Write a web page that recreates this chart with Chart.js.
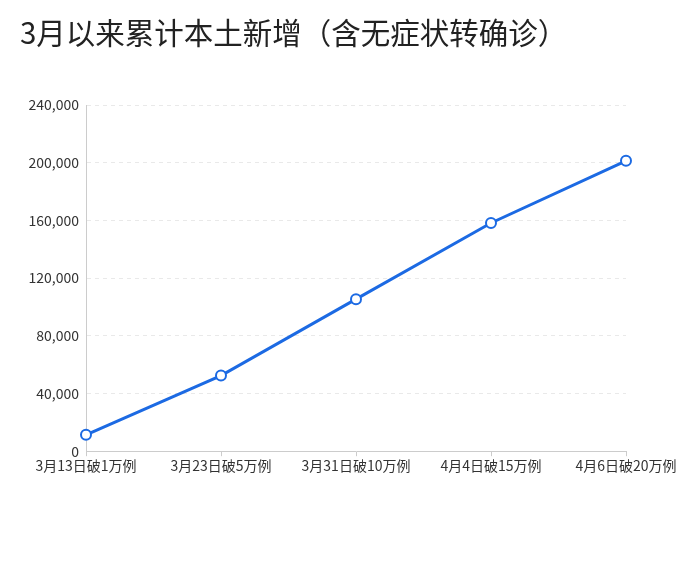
<!DOCTYPE html>
<html>
<head>
<meta charset="utf-8">
<script src="https://cdn.jsdelivr.net/npm/chart.js@4"></script>
<style>
  body { margin: 0; background: #fff; }
  #wrap { position: relative; width: 700px; height: 576px; }
  #title {
    position: absolute; left: 20px; top: 10px;
    font-family: "Noto Sans CJK SC", sans-serif; font-size: 29.5px; color: #222;
    white-space: nowrap;
  }
  #box { position: absolute; left: 0; top: 0; width: 700px; height: 576px; }
</style>
</head>
<body>
<div id="wrap">
  <div id="box"><canvas id="myChart"></canvas></div>
  <div id="title">3月以来累计本土新增（含无症状转确诊）</div>
</div>
<script>
const categories = ['3月13日破1万例', '3月23日破5万例', '3月31日破10万例', '4月4日破15万例', '4月6日破20万例'];
const totals = [11400, 52400, 105400, 158200, 201300];
const yTicks = [0, 40000, 80000, 120000, 160000, 200000, 240000];

const font = { family: '"Noto Sans CJK SC", sans-serif', size: 14 };

const ctx = document.getElementById('myChart').getContext('2d');
new Chart(ctx, {
  type: 'line',
  data: {
    labels: categories,
    datasets: [{
      data: totals,
      borderColor: '#1c6ae3',
      borderWidth: 3,
      pointRadius: 5,
      pointBorderWidth: 2,
      pointBackgroundColor: '#fff',
      pointBorderColor: '#1c6ae3',
      tension: 0
    }]
  },
  options: {
    responsive: true,
    maintainAspectRatio: false,
    animation: false,
    layout: { padding: { top: 105, bottom: 101, right: 74, left: 0 } },
    plugins: { legend: { display: false }, tooltip: { enabled: false } },
    scales: {
      x: {
        offset: false,
        grid: { drawOnChartArea: false, drawTicks: true, tickLength: 5, color: '#cccccc' },
        border: { color: '#cccccc' },
        ticks: { color: '#333', font: font, maxRotation: 0, autoSkip: false, padding: 1 }
      },
      y: {
        min: 0,
        max: 240000,
        afterFit: s => { s.width = 86; },
        afterBuildTicks: s => { s.ticks = yTicks.map(v => ({ value: v })); },
        grid: { color: '#e9e9e9', drawTicks: false },
        border: { color: '#cccccc', dash: [4, 4] },
        ticks: {
          color: '#333', font: font, padding: 7,
          callback: v => v.toLocaleString('en-US')
        }
      }
    }
  }
});
</script>
</body>
</html>
